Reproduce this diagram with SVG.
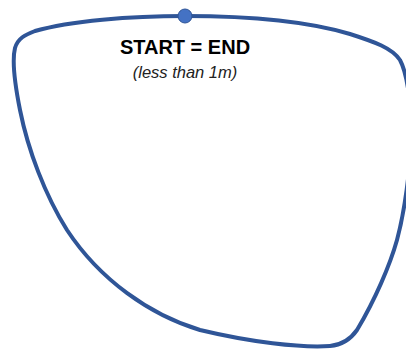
<svg xmlns="http://www.w3.org/2000/svg" width="406" height="351" viewBox="0 0 406 351">
<style>
.loop{fill:none;stroke:#2F5597;stroke-width:4;stroke-linejoin:round}
.title{font-family:"Liberation Sans",Arial,sans-serif;font-weight:bold;font-size:20px;fill:#000;text-anchor:middle}
.sub{font-family:"Liberation Sans",Arial,sans-serif;font-style:italic;font-size:16.5px;fill:#222;text-anchor:middle}
</style>
<rect width="406" height="351" fill="#fff"/>
<g id="connectors">
<path class="loop" d="M185,16 C250,16 310,22 350,34 C375,42 392,48 400,60 C408,75 412,110 411,140 C410,170 405,210 397,240 C390,265 375,300 357,330 C350,340 342,345 330,346 C300,348 250,342 200,330 C150,315 100,280 67,230 C45,195 28,150 20,110 C15,85 12,60 15,48 C18,38 25,35 35,31 C70,21 130,16 185,16 Z"/>
</g>
<g id="start">
<circle cx="185" cy="16" r="7" fill="#4472C4" stroke="#2F5597" stroke-width="1"/>
</g>
<g id="label">
<text class="title" x="185" y="54">START = END</text>
<text class="sub" x="185" y="78">(less than 1m)</text>
</g>
</svg>
